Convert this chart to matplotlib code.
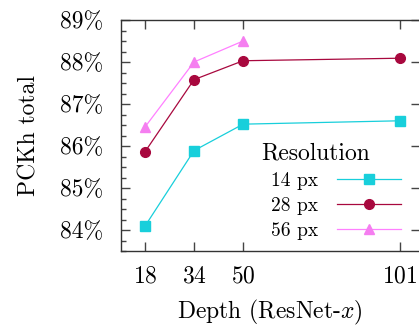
import matplotlib
matplotlib.use('Agg')
from matplotlib import pyplot as plt
from matplotlib.ticker import MultipleLocator, FuncFormatter

depth = [18, 34, 50, 101]
depth_56 = [18, 34, 50]
pckh_14 = [84.09, 85.89, 86.52, 86.60]
pckh_28 = [85.86, 87.58, 88.03, 88.09]
pckh_56 = [86.45, 88.00, 88.50]
yticks = [84, 85, 86, 87, 88, 89]

plt.rcParams['font.family'] = 'cmr10'
plt.rcParams['mathtext.fontset'] = 'cm'
plt.rcParams['axes.formatter.use_mathtext'] = True

W, H = 419, 328
fig = plt.figure(figsize=(W / 100, H / 100), dpi=100)
ax = fig.add_axes([121 / W, (H - 251) / H, (419.5 - 121) / W, (251 - 20) / H])

ax.plot(depth, pckh_14, color='#18cfdb', lw=0.9, marker='s', ms=6.5, label='14 px')
ax.plot(depth, pckh_28, color='#a8083e', lw=0.9, marker='o', ms=7, label='28 px')
ax.plot(depth_56, pckh_56, color='#ff80ff', lw=0.9, marker='^', ms=7,
        mfc='#f57ef0', mec='#f57ef0', label='56 px')

ax.set_xlim(10.2, 107.5)
ax.set_ylim(83.5, 89)
ax.set_xticks(depth)
ax.set_yticks(yticks)
ax.yaxis.set_minor_locator(MultipleLocator(0.25))
ax.yaxis.set_major_formatter(FuncFormatter(lambda v, p: f'{v:.0f}%'))

ax.tick_params(which='both', direction='in', labelsize=17, color='#444444')
ax.tick_params(which='major', length=6.5, width=1, top=True, right=True)
ax.tick_params(axis='y', which='major', pad=13)
ax.tick_params(axis='x', which='major', pad=10)
ax.tick_params(which='minor', length=3.6, width=1, left=True, right=False)
ax.tick_params(axis='x', which='minor', bottom=False, top=False)
for s in ax.spines.values():
    s.set_color('#333333')
    s.set_linewidth(1)

ax.set_xlabel('Depth (ResNet-$x$)', fontsize=17, labelpad=8)
ax.set_ylabel('PCKh total', fontsize=17, labelpad=14)

ax.legend(loc='upper left', bbox_to_anchor=(0.469, 0.383),
          frameon=False, markerfirst=False, fontsize=14,
          handlelength=3.3, handletextpad=1.0, labelspacing=0.35,
          borderpad=0)
ax.text(0.653, 0.424, 'Resolution', transform=ax.transAxes, fontsize=17,
        ha='center', va='center')

plt.savefig('out.png', dpi=100)
